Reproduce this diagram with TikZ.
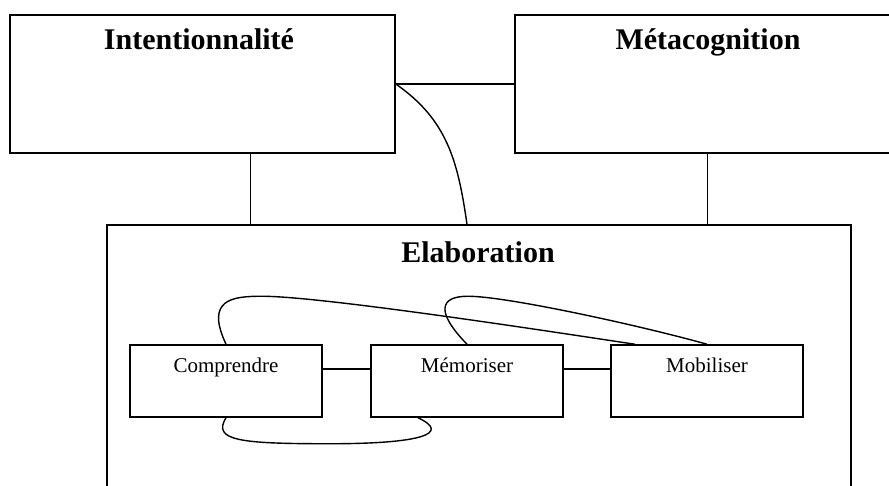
\documentclass[tikz,border=0pt]{standalone}
\usepackage{fontspec}
\setmainfont{Liberation Serif}
\usepackage{tikz}

\begin{document}
\begin{tikzpicture}
[every node/.style={inner sep=0pt},
 bigbox/.style={rectangle, draw=black, line width=1.5pt},
 smallbox/.style={rectangle, minimum width=192pt, minimum height=72pt, draw=black, line width=1.5pt},
 headtext/.style={anchor=base, font=\fontsize{30}{36}\selectfont\bfseries},
 boxtext/.style={anchor=base, font=\fontsize{21}{25}\selectfont},
 link/.style={line width=1.4pt, color=black}]
\path [use as bounding box, clip] (0pt, 0pt) rectangle (889pt, -486pt);
\node (intent) [bigbox, minimum width=385pt, minimum height=138pt] at (202.5pt, -84pt) {};
\node (meta) [bigbox, minimum width=385pt, minimum height=138pt] at (707.5pt, -84pt) {};
\node (elab) [bigbox, minimum width=744pt, minimum height=290pt] at (479pt, -370pt) {};
\node (intenttext) [headtext] at (199pt, -50pt) {Intentionnalité};
\node (metatext) [headtext] at (708pt, -50pt) {Métacognition};
\node (elabtext) [headtext] at (478pt, -263pt) {Elaboration};
\node (comp) [smallbox] at (226pt, -381pt) {};
\node (memo) [smallbox] at (467pt, -381pt) {};
\node (mob) [smallbox] at (707pt, -381pt) {};
\node (comptext) [boxtext] at (226pt, -372pt) {Comprendre};
\node (memotext) [boxtext] at (467pt, -372pt) {Mémoriser};
\node (mobtext) [boxtext] at (707pt, -372pt) {Mobiliser};
\draw [link] (intent.east) -- (meta.west);
\draw [link] ([xshift=48pt]intent.south) -- ([xshift=48pt]intent.south |- elab.north);
\draw [link] (meta.south) -- (meta.south |- elab.north);
\draw [link] (intent.east) .. controls +(52pt,-36pt) and +(-9pt,62pt) .. ([xshift=-12pt]elab.north);
\draw [link] ([yshift=12pt]comp.east) -- ([yshift=12pt]memo.west);
\draw [link] ([yshift=12pt]memo.east) -- ([yshift=12pt]mob.west);
\draw [link] (comp.north) .. controls +(-21pt,45pt) and +(-30pt,0pt) .. ++(36pt,48pt)
  .. controls +(60pt,0pt) and +(-80pt,12pt) .. ([xshift=-72pt]mob.north);
\draw [link] (memo.north) .. controls +(-32pt,33pt) and +(-28pt,0pt) .. ++(1pt,48pt)
  .. controls +(40pt,0pt) and +(-60pt,17pt) .. (mob.north);
\draw [link] (comp.south) .. controls +(-14pt,-23pt) and +(-90pt,0pt) .. ++(104pt,-26pt)
  .. controls +(90pt,0pt) and +(34pt,-16pt) .. ([xshift=-49pt]memo.south);
\end{tikzpicture}
\end{document}
